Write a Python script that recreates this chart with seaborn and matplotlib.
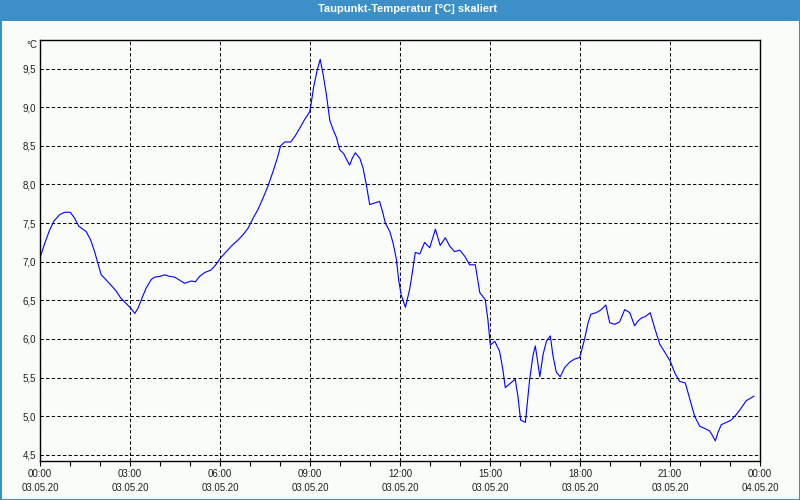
import matplotlib
matplotlib.use("Agg")
import matplotlib.pyplot as plt
import seaborn as sns
import pandas as pd
from matplotlib.patches import Rectangle
from matplotlib.ticker import MultipleLocator, FixedLocator

# ---- data (hours after 03.05.20 00:00, dew point in °C) ----
hours = [0.0, 0.16, 0.32, 0.47, 0.66, 0.82, 1.01, 1.16, 1.29, 1.43, 1.54, 1.69, 1.82, 1.93,
         2.04, 2.19, 2.38, 2.54, 2.69, 2.84, 3.02, 3.16, 3.27, 3.40, 3.54, 3.71, 3.82, 4.0,
         4.16, 4.32, 4.49, 4.66, 4.82, 5.04, 5.18, 5.32, 5.49, 5.69, 5.84, 6.02, 6.21, 6.40,
         6.60, 6.77, 6.93, 7.10, 7.27, 7.43, 7.60, 7.77, 7.91, 8.02, 8.16, 8.36, 8.51, 8.66,
         8.82, 8.99, 9.04, 9.12, 9.24, 9.34, 9.43, 9.54, 9.66, 9.77, 9.88, 9.99, 10.12, 10.21,
         10.32, 10.41, 10.51, 10.66, 10.77, 10.88, 10.99, 11.16, 11.32, 11.43, 11.51, 11.66,
         11.77, 11.88, 11.96, 12.04, 12.18, 12.32, 12.40, 12.51, 12.66, 12.82, 12.99, 13.18,
         13.34, 13.51, 13.66, 13.82, 13.99, 14.16, 14.32, 14.51, 14.66, 14.84, 14.93, 15.01,
         15.16, 15.32, 15.43, 15.51, 15.66, 15.84, 15.93, 16.02, 16.18, 16.32, 16.43, 16.51,
         16.58, 16.66, 16.77, 16.88, 17.01, 17.10, 17.21, 17.34, 17.49, 17.66, 17.82, 17.99,
         18.04, 18.16, 18.27, 18.36, 18.54, 18.71, 18.86, 18.99, 19.16, 19.32, 19.49, 19.66,
         19.82, 19.93, 20.04, 20.18, 20.34, 20.49, 20.66, 20.84, 21.01, 21.16, 21.32, 21.51,
         21.66, 21.82, 21.99, 22.16, 22.32, 22.43, 22.51, 22.60, 22.71, 22.88, 23.04, 23.21,
         23.38, 23.54, 23.80]
dewpoint = [7.05, 7.24, 7.41, 7.53, 7.61, 7.64, 7.64, 7.56, 7.46, 7.42, 7.39, 7.28, 7.13, 6.98,
            6.83, 6.77, 6.69, 6.62, 6.53, 6.47, 6.40, 6.33, 6.40, 6.53, 6.66, 6.77, 6.80, 6.81,
            6.83, 6.81, 6.80, 6.76, 6.72, 6.75, 6.74, 6.81, 6.86, 6.89, 6.95, 7.05, 7.13, 7.21,
            7.28, 7.35, 7.43, 7.56, 7.68, 7.82, 7.98, 8.17, 8.34, 8.50, 8.55, 8.55, 8.63, 8.73,
            8.84, 8.94, 9.05, 9.26, 9.48, 9.62, 9.44, 9.18, 8.83, 8.71, 8.61, 8.45, 8.40, 8.33,
            8.25, 8.34, 8.41, 8.34, 8.21, 7.99, 7.74, 7.76, 7.78, 7.63, 7.50, 7.39,
            7.24, 7.03, 6.75, 6.57, 6.41, 6.64, 6.83, 7.12, 7.10, 7.25, 7.18, 7.42,
            7.21, 7.31, 7.20, 7.13, 7.15, 7.07, 6.96, 6.96, 6.60, 6.51, 6.25, 5.92,
            5.97, 5.84, 5.60, 5.37, 5.42, 5.48, 5.26, 4.95, 4.92, 5.47, 5.78, 5.91,
            5.73, 5.51, 5.80, 5.97, 6.04, 5.78, 5.57, 5.51, 5.63, 5.70, 5.74, 5.76,
            5.83, 6.01, 6.21, 6.32, 6.34, 6.38, 6.44, 6.21, 6.19, 6.22, 6.38, 6.34,
            6.17, 6.23, 6.27, 6.29, 6.34, 6.14, 5.93, 5.82, 5.71, 5.56, 5.45, 5.43,
            5.22, 5.00, 4.87, 4.84, 4.81, 4.74, 4.68, 4.79, 4.89, 4.92, 4.95, 5.02,
            5.11, 5.20, 5.26]

xtick_hours = [0, 3, 6, 9, 12, 15, 18, 21, 24]
xtick_labels = ["00:00\n03.05.20", "03:00\n03.05.20", "06:00\n03.05.20", "09:00\n03.05.20",
                "12:00\n03.05.20", "15:00\n03.05.20", "18:00\n03.05.20", "21:00\n03.05.20",
                "00:00\n04.05.20"]
ytick_values = [4.5, 5.0, 5.5, 6.0, 6.5, 7.0, 7.5, 8.0, 8.5, 9.0, 9.5]
ytick_labels = ["4,5", "5,0", "5,5", "6,0", "6,5", "7,0", "7,5", "8,0", "8,5", "9,0", "9,5"]
title = "Taupunkt-Temperatur [°C] skaliert"
unit = "°C"

df = pd.DataFrame({"h": hours, "t": dewpoint})

sns.set_style("white")
plt.rcParams["font.family"] = ["Liberation Sans", "DejaVu Sans"]

BG = "#fafcfa"
BLUE_BAR = "#3c8fc7"

fig = plt.figure(figsize=(8, 5), dpi=100, facecolor=BG)
ax = fig.add_axes([40 / 800, 1 - 461 / 500, 720 / 800, 421 / 500])
ax.set_facecolor(BG)

sns.lineplot(data=df, x="h", y="t", ax=ax, color="#0000ff", linewidth=0.8, legend=False)

ax.set_xlim(0, 24)
ax.set_ylim(4.42, 9.87)
ax.set_xlabel("")
ax.set_ylabel("")

ax.xaxis.set_major_locator(FixedLocator(xtick_hours))
ax.set_xticklabels(xtick_labels)
ax.xaxis.set_minor_locator(MultipleLocator(1))
ax.set_yticks(ytick_values)
ax.set_yticklabels(ytick_labels)

for lbl in ax.get_xticklabels():
    lbl.set_linespacing(1.55)

ax.tick_params(axis="x", which="both", direction="out", length=3.5, width=0.8,
               color="black", labelsize=7, labelcolor="#202020", pad=2, bottom=True)
ax.tick_params(axis="y", which="both", length=0, labelsize=7, labelcolor="#202020", pad=3)

ax.grid(True, which="major", color="black", linewidth=0.75, linestyle=(0, (3.2, 2.2)))
ax.set_axisbelow(True)

for s in ax.spines.values():
    s.set_visible(True)
    s.set_color("black")
    s.set_linewidth(1.0)

# unit label
fig.text(37 / 800, 1 - 45 / 500, unit, ha="right", va="center", fontsize=7, color="#202020")

# title bar
fig.patches.append(Rectangle((0, 1 - 20.5 / 500), 1, 20.5 / 500, transform=fig.transFigure,
                             facecolor=BLUE_BAR, edgecolor="none", zorder=0))
fig.text(408 / 800, 1 - 9.5 / 500, title, ha="center", va="center", fontsize=8,
         fontweight="bold", color="white")

# window border
fig.patches.append(Rectangle((0.5 / 800, 0.5 / 500), 799 / 800, 499 / 500,
                             transform=fig.transFigure, facecolor="none",
                             edgecolor=BLUE_BAR, linewidth=1.5, zorder=0))

fig.savefig("out.png", dpi=100, facecolor=BG)
